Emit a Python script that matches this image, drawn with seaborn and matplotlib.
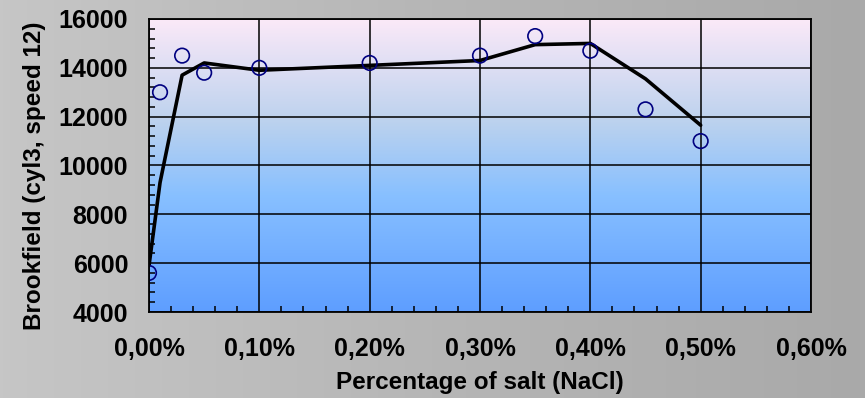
import numpy as np
import pandas as pd
import matplotlib
matplotlib.use("Agg")
import matplotlib.pyplot as plt
from matplotlib.colors import LinearSegmentedColormap
from matplotlib.ticker import MultipleLocator, FuncFormatter
import seaborn as sns

# Measured Brookfield viscosity versus salt content
salt_pct = [0.00, 0.01, 0.03, 0.05, 0.10, 0.20, 0.30, 0.35, 0.40, 0.45, 0.50]
viscosity = [5600, 13000, 14500, 13800, 14000, 14200, 14500, 15300, 14700, 12300, 11000]

# Smoothed trend curve
trend_pct = [0.00, 0.01, 0.03, 0.05, 0.10, 0.15, 0.20, 0.30, 0.35, 0.40, 0.45, 0.50]
trend_visc = [5900, 9300, 13700, 14200, 13900, 14000, 14100, 14300, 14950, 15000, 13550, 11650]

x_ticks = [0.0, 0.1, 0.2, 0.3, 0.4, 0.5, 0.6]
y_ticks = [4000, 6000, 8000, 10000, 12000, 14000, 16000]

points = pd.DataFrame({"salt": salt_pct, "visc": viscosity})
trend = pd.DataFrame({"salt": trend_pct, "visc": trend_visc})

sns.set_theme(style="white")
plt.rcParams["font.family"] = ["Liberation Sans", "DejaVu Sans"]
plt.rcParams["font.weight"] = "bold"
plt.rcParams["text.color"] = "black"
plt.rcParams["axes.labelcolor"] = "black"
plt.rcParams["xtick.color"] = "black"
plt.rcParams["ytick.color"] = "black"

W, H, DPI = 865, 398, 100
fig = plt.figure(figsize=(W / DPI, H / DPI), dpi=DPI)

# Gray figure backdrop, lighter on the left
bg = fig.add_axes([0, 0, 1, 1], zorder=-10)
grad = np.linspace(0, 1, 256)[None, :]
bg_cmap = LinearSegmentedColormap.from_list("bg", ["#c6c6c6", "#b6b6b6", "#a9a9a9"])
bg.imshow(grad, aspect="auto", cmap=bg_cmap, extent=[0, 1, 0, 1])
bg.set_axis_off()

left, right, top, bottom = 149, 811, 19, 312
ax = fig.add_axes([left / W, 1 - bottom / H, (right - left) / W, (bottom - top) / H])

# Vertical gradient fill of the plotting area
vgrad = np.linspace(0, 1, 256)[:, None]
area_cmap = LinearSegmentedColormap.from_list(
    "area", [(0.0, "#fbe9f8"), (0.35, "#bcd2ee"), (0.6, "#88c0ff"), (1.0, "#5e9eff")]
)
ax.imshow(vgrad, aspect="auto", cmap=area_cmap, extent=[0, 1, 0, 1],
          transform=ax.transAxes, zorder=0)

sns.lineplot(data=trend, x="salt", y="visc", ax=ax, color="black",
             linewidth=2.6, zorder=3, sort=False)
sns.scatterplot(data=points, x="salt", y="visc", ax=ax, marker="o", s=110,
                facecolor="none", edgecolor="#000080", linewidth=1.2, zorder=4)

ax.set_xlim(0, 0.6)
ax.set_ylim(4000, 16000)
ax.set_xticks(x_ticks)
ax.set_yticks(y_ticks)
ax.xaxis.set_minor_locator(MultipleLocator(0.02))
ax.yaxis.set_minor_locator(MultipleLocator(400))
ax.xaxis.set_major_formatter(FuncFormatter(lambda v, p: f"{v:.2f}%".replace(".", ",")))
ax.yaxis.set_major_formatter(FuncFormatter(lambda v, p: f"{int(v)}"))

ax.grid(True, which="major", color="black", linewidth=1.1, zorder=1)
ax.set_axisbelow(False)
for sp in ax.spines.values():
    sp.set_color("black")
    sp.set_linewidth(1.3)
    sp.set_zorder(5)

ax.tick_params(which="major", direction="out", length=6, width=1.3, color="black",
               labelcolor="black", labelsize=18, pad=9)
ax.tick_params(axis="x", which="major", pad=12)
ax.tick_params(which="minor", direction="in", length=4, width=1.1, color="black",
               bottom=True, left=True)
for lab in ax.get_xticklabels() + ax.get_yticklabels():
    lab.set_fontweight("bold")

ax.set_xlabel("Percentage of salt (NaCl)", fontsize=17.5, fontweight="bold", color="black")
ax.set_ylabel("Brookfield (cyl3, speed 12)", fontsize=17.5, fontweight="bold", color="black")
ax.xaxis.set_label_coords(0.5, -0.2)
ax.yaxis.set_label_coords(-0.155, 0.465)
ax.set_facecolor("none")

fig.savefig("out.png", dpi=DPI)
